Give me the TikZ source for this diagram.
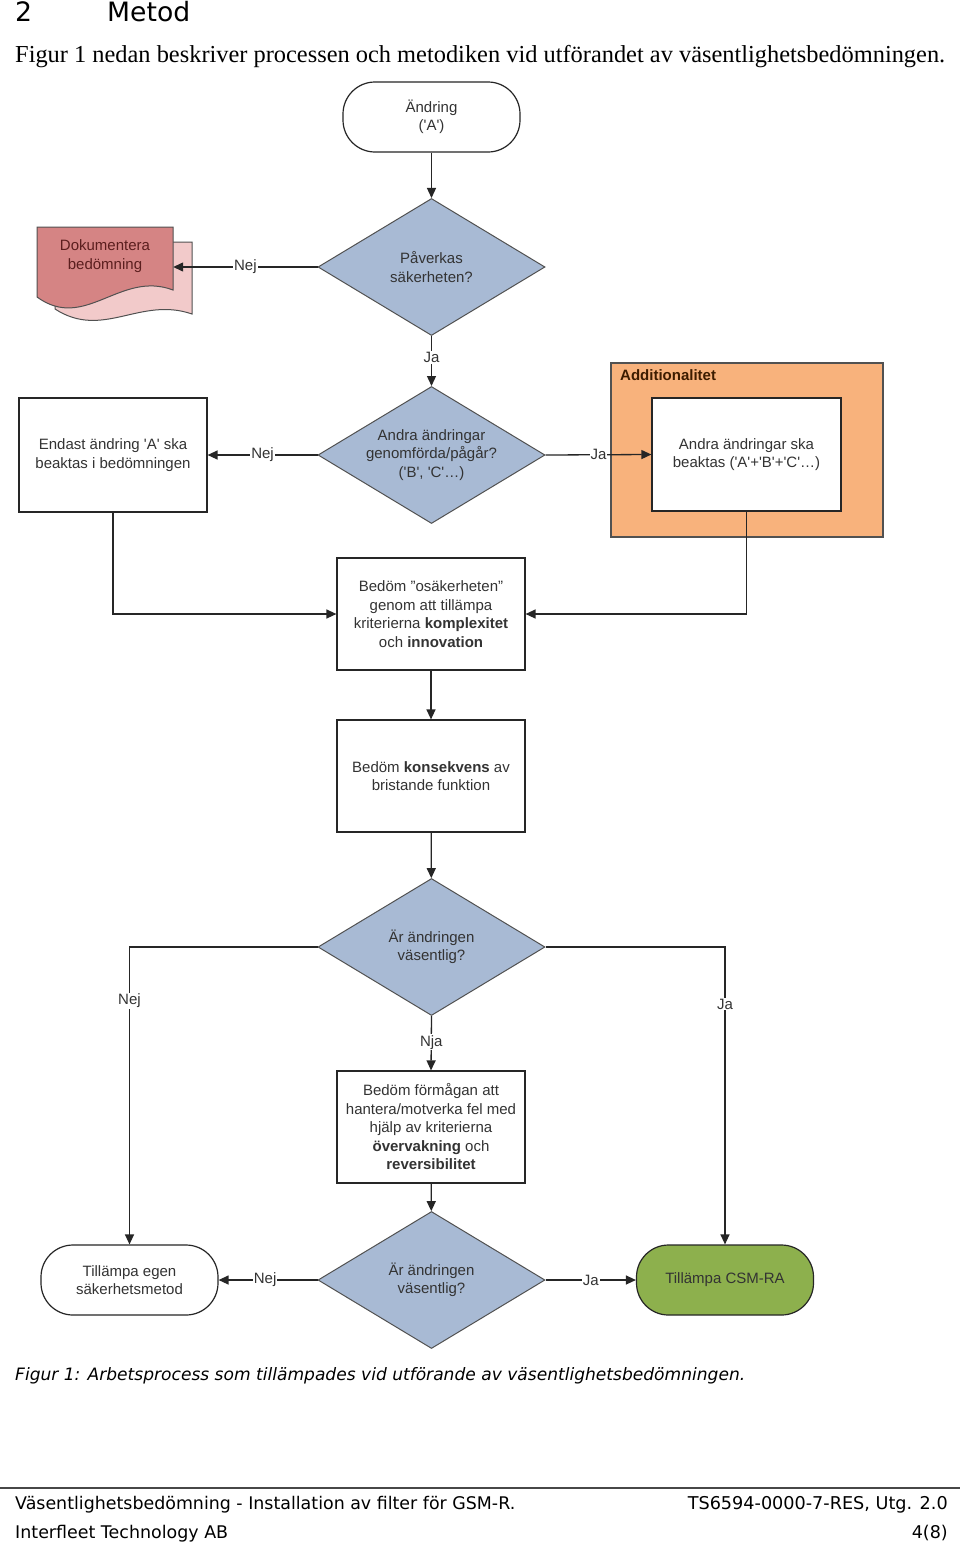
\documentclass[tikz,border=0pt]{standalone}
\usepackage{fontspec}
\setmainfont{Liberation Serif}
\newfontfamily\arialf{Liberation Sans}
\newfontfamily\verd{DejaVu Sans}
\usetikzlibrary{shapes.geometric,arrows.meta}
\definecolor{decblue}{HTML}{A8BAD4}
\definecolor{addorange}{HTML}{F8B27C}
\definecolor{csmgreen}{HTML}{8DB04D}
\definecolor{docfront}{HTML}{D58484}
\definecolor{docback}{HTML}{F2CACA}
\definecolor{txt}{HTML}{333333}
\definecolor{doctxt}{HTML}{5B1E1E}
\definecolor{addtxt}{HTML}{3D1C00}
\definecolor{ln}{HTML}{262626}
\newcommand{\dfont}{\arialf\fontsize{15}{18.5}\selectfont}
\tikzset{
  line/.style={draw=ln, line width=1.3pt},
  conn/.style={line, -{Triangle[length=10pt,width=9pt]}},
  lab/.style={fill=white, inner sep=1pt, text=txt, font=\dfont},
  proc/.style={rectangle, draw=ln, line width=1.2pt, fill=white, minimum width=188pt, minimum height=112pt, align=center, text=txt, font=\dfont, inner sep=0pt},
  dec/.style={diamond, draw=ln!80, line width=1pt, fill=decblue, minimum width=227pt, minimum height=137pt, aspect=1.65, inner sep=0pt, align=center, text=txt, font=\dfont},
  term/.style={rectangle, rounded corners=32pt, draw=ln, line width=1.2pt, minimum width=177pt, minimum height=70pt, align=center, text=txt, font=\dfont, inner sep=0pt},
  plain/.style={inner sep=0pt, text=black},
}
\begin{document}
\begin{tikzpicture}[x=1pt,y=-1pt]
\useasboundingbox[fill=white] (0,0) rectangle (960,1547);

% header
\node[plain, anchor=base west] (hnum) at (15,21) {\resizebox{17pt}{!}{\verd\fontsize{28}{30}\selectfont 2}};
\node[plain, anchor=base west] (hname) at (107,21) {\resizebox{83pt}{!}{\verd\fontsize{28}{30}\selectfont Metod}};
\node[plain, anchor=base west] (intro) at (15,62) {\resizebox{930pt}{!}{\fontsize{22}{26}\selectfont Figur 1 nedan beskriver processen och metodiken vid utförandet av väsentlighetsbedömningen.}};

% start
\node[term] (start) at (431.5,117) {Ändring\\('A')};

% decision 1
\node[dec] (d1) at (431.5,267) {Påverkas\\säkerheten?};

% document shape
\path[draw=ln!80, line width=1pt, fill=docback] (55,242) -- (192,242) -- (192,314) .. controls (140,296) and (103,340) .. (55,309) -- cycle;
\path[draw=ln!80, line width=1pt, fill=docfront] (37,227) -- (173,227) -- (173,290) .. controls (120,270) and (85,332) .. (37,297) -- cycle;
\node[inner sep=0pt, minimum width=136pt, minimum height=60pt, align=center, text=doctxt, font=\dfont] (doc) at (105,256) {Dokumentera\\bedömning};

% decision 2
\node[dec] (d2) at (431.5,455) {Andra ändringar\\genomförda/pågår?\\('B', 'C'…)};

% only A
\node[proc, minimum height=114pt] (only) at (113,455) {Endast ändring 'A' ska\\beaktas i bedömningen};

% additionalitet
\node[rectangle, draw=ln!80, line width=1.2pt, fill=addorange, minimum width=272pt, minimum height=174pt] (addbox) at (747,450) {};
\node[anchor=west, inner sep=0pt, text=addtxt, font=\arialf\bfseries\fontsize{15}{18}\selectfont] (addlab) at (620,375) {Additionalitet};
\node[proc, minimum width=189pt, minimum height=113pt] (other) at (746.5,454.5) {Andra ändringar ska\\beaktas ('A'+'B'+'C'…)};

% assessments
\node[proc] (osak) at (431,614) {Bedöm ”osäkerheten”\\genom att tillämpa\\kriterierna \textbf{komplexitet}\\och \textbf{innovation}};
\node[proc] (kons) at (431,776) {Bedöm \textbf{konsekvens} av\\bristande funktion};
\node[dec] (d3) at (431.5,947) {Är ändringen\\väsentlig?};
\node[proc] (form) at (431,1127) {Bedöm förmågan att\\hantera/motverka fel med\\hjälp av kriterierna\\\textbf{övervakning} och\\\textbf{reversibilitet}};
\node[dec] (d4) at (431.5,1280) {Är ändringen\\väsentlig?};
\node[term] (egen) at (129.5,1280) {Tillämpa egen\\säkerhetsmetod};
\node[term, fill=csmgreen] (csm) at (725,1280) {Tillämpa CSM-RA};

% connectors
\draw[conn] (start) -- (d1);
\draw[conn] (d1.west) -- node[lab, pos=0.5] {Nej} (d1.west -| doc.east);
\draw[conn] (d1.south) -- node[lab, pos=0.43] {Ja} (d2.north);
\draw[conn] (d2.west) -- node[lab, pos=0.5] {Nej} (only.east);
\draw[conn] (d2.east) -- node[lab, pos=0.5] {Ja} (other.west);
\draw[conn] (only.south) |- (osak.west);
\draw[conn] (other.south) |- (osak.east);
\draw[conn] (osak) -- (kons);
\draw[conn] (kons) -- (d3);
\draw[conn] (d3.west) -| node[lab, pos=0.59] {Nej} (egen.north);
\draw[conn] (d3.east) -| node[lab, pos=0.596] {Ja} (csm.north);
\draw[conn] (d3.south) -- node[lab, pos=0.48] {Nja} (form.north);
\draw[conn] (form) -- (d4);
\draw[conn] (d4.west) -- node[lab, pos=0.53] {Nej} (egen.east);
\draw[conn] (d4.east) -- node[lab, pos=0.5] {Ja} (csm.west);

% caption
\node[plain, anchor=base west] (cap) at (15,1380) {\resizebox{730pt}{!}{\verd\itshape\fontsize{17}{20}\selectfont Figur 1: Arbetsprocess som tillämpades vid utförande av väsentlighetsbedömningen.}};

% footer
\coordinate (rl) at (0,1488);
\coordinate (rr) at (960,1488);
\draw[draw=ln!85, line width=2.2pt] (rl) -- (rr);
\node[plain, anchor=base west] (f1) at (15,1509) {\resizebox{500pt}{!}{\verd\fontsize{17}{20}\selectfont Väsentlighetsbedömning - Installation av filter för GSM-R.}};
\node[plain, anchor=base east] (f2) at (948,1509) {\resizebox{260pt}{!}{\verd\fontsize{17}{20}\selectfont TS6594-0000-7-RES, Utg. 2.0}};
\node[plain, anchor=base west] (f3) at (15,1538) {\resizebox{213pt}{!}{\verd\fontsize{17}{20}\selectfont Interfleet Technology AB}};
\node[plain, anchor=base east] (f4) at (948,1538) {\resizebox{36pt}{!}{\verd\fontsize{17}{20}\selectfont 4(8)}};
\end{tikzpicture}
\end{document}
